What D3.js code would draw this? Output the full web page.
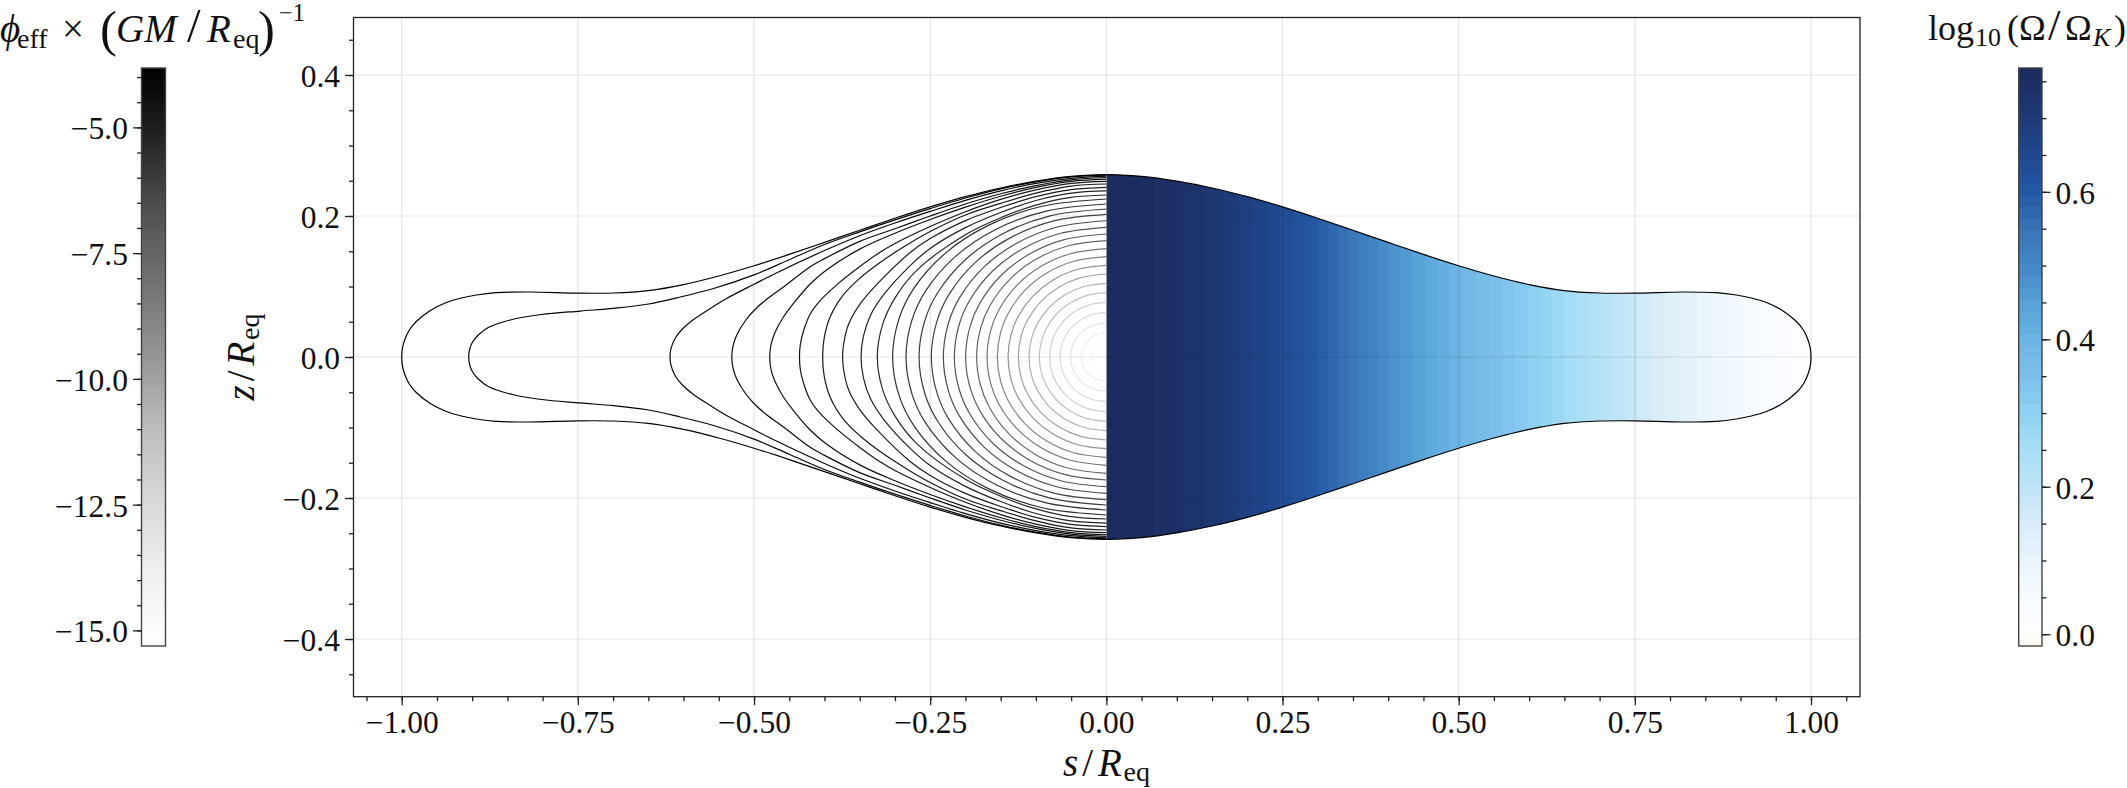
<!DOCTYPE html>
<html>
<head>
<meta charset="utf-8">
<script src="https://cdn.jsdelivr.net/npm/d3@7"></script>
<style>
  body { margin: 0; background: #fff; }
  text { font-family: "Liberation Serif", serif; fill: #111; }
</style>
</head>
<body>
<svg id="visualisation" width="2127" height="788"></svg>
<script>
// tick values
var xTicks = [-1, -0.75, -0.5, -0.25, 0, 0.25, 0.5, 0.75, 1];
var yTicks = [-0.4, -0.2, 0, 0.2, 0.4];
var phiTicks = [-15, -12.5, -10, -7.5, -5];
var omegaTicks = [0, 0.2, 0.4, 0.6];

// colourbar limits
var phiRange = [-15.31, -3.82];
var omegaRange = [-0.016, 0.768];

// rotation profile log10(Omega/Omega_K) against s/Req, read from the fill
var omegaS = [0, 0.05, 0.1, 0.15, 0.2, 0.25, 0.3, 0.35, 0.4, 0.45, 0.5, 0.55, 0.6, 0.65, 0.7, 0.75, 0.8, 0.85, 0.9, 0.95, 1];
var omegaV = [0.768, 0.76, 0.74, 0.715, 0.68, 0.64, 0.595, 0.54, 0.485, 0.44, 0.395, 0.355, 0.31, 0.265, 0.22, 0.175, 0.135, 0.1, 0.065, 0.03, 0];

// colour stops of the two colourbars
var greyStops = [0, 0.125, 0.25, 0.375, 0.5, 0.625, 0.75, 0.875, 1];
var greyColors = ["#ffffff", "#f0f0f0", "#d9d9d9", "#bdbdbd", "#969696", "#737373", "#525252", "#252525", "#000000"];
var blueStops = [-0.016, 0, 0.012, 0.05, 0.1, 0.15, 0.2, 0.25, 0.3, 0.35, 0.4, 0.45, 0.5, 0.55, 0.6, 0.65, 0.7, 0.768];
var blueColors = ["#fffaf2", "#fffcf8", "#fcfdff", "#f6fbff", "#e9f5fb", "#d8edf8", "#bde4f7", "#a8def6", "#8fd2f2", "#7dc0ea", "#6bb4e3", "#55a2d6", "#4487c5", "#3a74b6", "#2358a5", "#20488f", "#1e3a76", "#1b2a5e"];

// potential of each contour, inner to outer
var phiLevels = [-15.2, -14.5, -13.8, -13.2, -12.65, -11.95, -11.1, -10.55, -10, -9.4, -8.8, -8.25, -7.65, -7.2, -6.85, -6.5, -6.25, -6, -5.8, -5.55, -5.35, -5.15, -5, -4.8, -4.65, -4.45, -4.3, -4.15, -4, -3.82];

// upper half of each contour as [s, z], top of the axis first, inner to outer
var contourPoints = [
  [[0,.0057],[-.0029,.0049],[-.0046,.0034],[-.0054,.0018],[-.0057,0]],
  [[0,.0209],[-.0102,.0181],[-.0162,.0125],[-.0193,.0065],[-.0203,0]],
  [[0,.035],[-.0178,.0303],[-.0284,.021],[-.0337,.0109],[-.0355,0]],
  [[0,.0492],[-.0254,.0426],[-.0406,.0295],[-.0482,.0154],[-.0507,0]],
  [[0,.0634],[-.0197,.0605],[-.0361,.0529],[-.0493,.0419],[-.0591,.0276],[-.0637,.0154],[-.0657,0]],
  [[0,.0776],[-.0242,.074],[-.0443,.0648],[-.0604,.0513],[-.0725,.0338],[-.0781,.0189],[-.0805,0]],
  [[0,.0912],[-.0285,.087],[-.0523,.0762],[-.0713,.0603],[-.0856,.0398],[-.0922,.0222],[-.0951,0]],
  [[0,.1045],[-.0329,.0997],[-.0603,.0873],[-.0823,.0691],[-.0987,.0456],[-.1064,.0254],[-.1097,0]],
  [[0,.1177],[-.0375,.1123],[-.0687,.0983],[-.0937,.0778],[-.1124,.0513],[-.1212,.0286],[-.1249,0]],
  [[0,.1301],[-.0419,.1241],[-.0767,.1086],[-.1046,.086],[-.1256,.0567],[-.1353,.0316],[-.1395,0]],
  [[0,.1423],[-.0464,.1358],[-.0851,.1188],[-.116,.0941],[-.1392,.062],[-.1501,.0346],[-.1547,0]],
  [[0,.1536],[-.0508,.1465],[-.0931,.1283],[-.127,.1015],[-.1524,.067],[-.1642,.0373],[-.1693,0]],
  [[0,.165],[-.0552,.1574],[-.1013,.1378],[-.1381,.1091],[-.1657,.0719],[-.1786,.0401],[-.1841,0]],
  [[0,.1745],[-.0599,.1665],[-.1098,.1457],[-.1498,.1153],[-.1797,.0761],[-.1937,.0424],[-.1997,0]],
  [[0,.184],[-.0647,.1755],[-.1186,.1536],[-.1618,.1216],[-.1941,.0802],[-.2092,.0447],[-.2157,0]],
  [[0,.1933],[-.0694,.1844],[-.1272,.1614],[-.1735,.1278],[-.2082,.0843],[-.2244,.047],[-.2313,0]],
  [[0,.2024],[-.0745,.1931],[-.1366,.169],[-.1863,.1338],[-.2236,.0882],[-.2409,.0492],[-.2484,0]],
  [[0,.2099],[-.0797,.2002],[-.1462,.1753],[-.1994,.1387],[-.2392,.0915],[-.2578,.051],[-.2658,0]],
  [[0,.217],[-.0853,.207],[-.1564,.1812],[-.2132,.1434],[-.2559,.0946],[-.2758,.0527],[-.2843,0]],
  [[0,.2241],[-.091,.2138],[-.1668,.1871],[-.2275,.1481],[-.273,.0977],[-.2942,.0545],[-.3033,0]],
  [[0,.2298],[-.05,.2265],[-.1,.2155],[-.15,.1975],[-.2,.1735],[-.2695,.1225],[-.3007,.0825],[-.3177,.0455],[-.325,0]],
  [[0,.2355],[-.05,.2325],[-.1,.222],[-.15,.205],[-.2,.1835],[-.25,.154],[-.278,.13],[-.3163,.088],[-.3348,.059],[-.3447,.0295],[-.3481,0]],
  [[0,.2407],[-.05,.2375],[-.1,.2275],[-.15,.212],[-.2,.1935],[-.25,.168],[-.278,.1485],[-.3257,.103],[-.3489,.076],[-.366,.046],[-.373,.017],[-.3743,0]],
  [[0,.2454],[-.05,.2425],[-.1,.2325],[-.15,.218],[-.2,.2015],[-.25,.178],[-.278,.162],[-.3206,.1345],[-.3489,.1125],[-.373,.0885],[-.3919,.057],[-.4004,.027],[-.4026,0]],
  [[0,.2492],[-.05,.2463],[-.1,.237],[-.15,.2235],[-.2,.206],[-.25,.185],[-.3,.161],[-.3206,.149],[-.3489,.129],[-.383,.102],[-.4071,.079],[-.4203,.061],[-.4298,.0369],[-.4343,.0177],[-.4355,0]],
  [[0,.2522],[-.05,.249],[-.1,.2405],[-.15,.228],[-.2,.2125],[-.25,.195],[-.3,.1755],[-.35,.153],[-.3972,.1234],[-.4203,.1035],[-.444,.0759],[-.4582,.0567],[-.4699,.0355],[-.4756,.019],[-.4777,0]],
  [[0,.2546],[-.05,.2512],[-.1,.243],[-.15,.2315],[-.2,.217],[-.25,.2],[-.3,.182],[-.35,.164],[-.4,.1395],[-.4203,.1281],[-.4582,.0993],[-.4817,.0823],[-.4993,.0667],[-.5121,.0518],[-.5245,.0312],[-.5295,.017],[-.5316,0]],
  [[0,.2567],[-.05,.2535],[-.1,.2462],[-.15,.2357],[-.2,.2222],[-.25,.2065],[-.3,.19],[-.35,.172],[-.4,.151],[-.4675,.1196],[-.4993,.1035],[-.5384,.0833],[-.5621,.0688],[-.5858,.0532],[-.6023,.039],[-.6117,.027],[-.618,.0113],[-.6192,0]],
  [[0,.2579],[-.05,.2555],[-.1,.2484],[-.15,.2385],[-.2,.2255],[-.25,.2105],[-.3,.1945],[-.35,.1775],[-.4,.1595],[-.45,.138],[-.5,.1165],[-.5574,.0972],[-.6047,.0851],[-.6519,.0748],[-.6993,.0691],[-.7465,.0652],[-.8018,.0603],[-.8373,.0546],[-.8586,.0489],[-.8771,.0418],[-.8913,.0312],[-.8998,.0206],[-.9035,.0113],[-.9049,0]],
  [[0,.2587],[-.05,.2562],[-.1,.2494],[-.15,.2397],[-.2,.2274],[-.25,.2129],[-.3,.1968],[-.35,.1798],[-.4,.1625],[-.45,.1455],[-.5,.1294],[-.55,.1149],[-.6,.1027],[-.65,.0942],[-.7,.0908],[-.75,.0905],[-.8174,.0922],[-.8657,.0912],[-.8941,.0879],[-.9154,.0837],[-.9367,.0773],[-.9594,.066],[-.9793,.0504],[-.9892,.0383],[-.9953,.0255],[-.9989,.0128],[-1,0]]
];

var svg = d3.select("#visualisation");
var BOX = { left: 353.5, right: 1860, top: 17.5, bottom: 696.7 };
var LEFTBAR = { left: 141.5, right: 165.5, top: 68, bottom: 646 };
var RIGHTBAR = { left: 2018.7, right: 2042, top: 68, bottom: 646 };

var x = d3.scaleLinear().domain([-1, 1]).range([401.7, 1811]);
var y = d3.scaleLinear().domain([-0.4, 0.4]).range([639, 75]);
var phiY = d3.scaleLinear().domain(phiRange).range([LEFTBAR.bottom, LEFTBAR.top]);
var omegaY = d3.scaleLinear().domain(omegaRange).range([RIGHTBAR.bottom, RIGHTBAR.top]);

var greyScale = d3.scaleLinear()
  .domain(greyStops.map(function(t) { return phiRange[0] + t * (phiRange[1] - phiRange[0]); }))
  .range(greyColors);
var blueScale = d3.scaleLinear().domain(blueStops).range(blueColors);

var minus = function(f) {
  return function(d) { return f(d).replace("-", "\u2212\u2009"); };
};

// a run of math text; each part is [string, style]
function mathText(parent, px, py, anchor, size, parts, rotate) {
  var t = parent.append("text")
    .attr("text-anchor", anchor)
    .attr("font-size", size);
  if (rotate) t.attr("transform", "translate(" + px + "," + py + ") rotate(-90)");
  else t.attr("x", px).attr("y", py);
  var base = 0;
  parts.forEach(function(p) {
    var o = p[1] || {};
    var shift = o.shift || 0;
    var s = t.append("tspan")
      .attr("dy", base - shift)
      .attr("font-size", size * (o.scale || 1))
      .attr("font-style", o.italic ? "italic" : "normal")
      .text(p[0]);
    if (o.gap) s.attr("dx", o.gap);
    if (o.at !== undefined) s.attr("x", o.at);
    base = shift;
  });
  return t;
}

function styleAxis(g, labelSize) {
  g.select(".domain").remove();
  g.selectAll(".tick line").attr("stroke", "#222").attr("stroke-width", 1.3);
  g.selectAll(".tick text").attr("font-size", labelSize).attr("font-family", "Liberation Serif").attr("fill", "#111");
}

function drawBody() {
  var outer = contourPoints[contourPoints.length - 1];
  var line = d3.line()
    .x(function(d) { return x(d[0]); })
    .y(function(d) { return y(d[1]); })
    .curve(d3.curveCatmullRom.alpha(0.5));

  function leftHalf(pts) {
    var lower = pts.slice(0, -1).reverse().map(function(d) { return [d[0], -d[1]]; });
    return pts.concat(lower);
  }
  var rightPts = leftHalf(outer).map(function(d) { return [-d[0], d[1]]; });

  svg.append("clipPath").attr("id", "fillClip").append("path").attr("d", line(rightPts) + "Z");

  // rotation fill, one strip per colour level
  var nBands = 50;
  var step = (omegaRange[1] - omegaRange[0]) / nBands;
  var bands = d3.range(nBands).map(function(i) { return omegaRange[0] + i * step; });
  var sOfOmega = d3.scaleLinear().domain(omegaV).range(omegaS);
  svg.append("g").attr("clip-path", "url(#fillClip)")
    .selectAll("rect").data(bands).enter().append("rect")
    .attr("x", function(d) { return x(sOfOmega(Math.min(d + step, omegaV[0]))); })
    .attr("width", function(d) {
      var lo = Math.max(d, 0);
      var right = d < 0 ? 1 : sOfOmega(lo);
      return Math.max(0, x(right) - x(sOfOmega(Math.min(d + step, omegaV[0])))) + 0.6;
    })
    .attr("y", y(0.3))
    .attr("height", y(-0.3) - y(0.3))
    .attr("fill", function(d) { return blueScale(d + step / 2); });

  // potential contours, left half only
  svg.append("g").selectAll("path").data(contourPoints).enter().append("path")
    .attr("d", function(d) { return line(leftHalf(d)); })
    .attr("fill", "none")
    .attr("stroke", function(d, i) { return greyScale(phiLevels[i]); })
    .attr("stroke-width", 1.2);

  svg.append("path").attr("d", line(rightPts))
    .attr("fill", "none").attr("stroke", "#000").attr("stroke-width", 1.2);
}

function drawGridAndAxes() {
  var grid = svg.append("g").attr("stroke", "#000").attr("stroke-opacity", 0.1).attr("stroke-width", 1.2);
  grid.selectAll(".gx").data(xTicks).enter().append("line").attr("class", "gx")
    .attr("x1", x).attr("x2", x).attr("y1", BOX.top).attr("y2", BOX.bottom);
  grid.selectAll(".gy").data(yTicks).enter().append("line").attr("class", "gy")
    .attr("y1", y).attr("y2", y).attr("x1", BOX.left).attr("x2", BOX.right);

  svg.append("rect")
    .attr("x", BOX.left).attr("y", BOX.top)
    .attr("width", BOX.right - BOX.left).attr("height", BOX.bottom - BOX.top)
    .attr("fill", "none").attr("stroke", "#222").attr("stroke-width", 1.3);

  var xMinor = d3.range(-1.05, 1.0501, 0.05);
  var gxm = svg.append("g").attr("transform", "translate(0," + BOX.bottom + ")")
    .call(d3.axisBottom(x).tickValues(xMinor).tickSize(4.5).tickFormat(""));
  styleAxis(gxm, 0);
  var gx = svg.append("g").attr("transform", "translate(0," + BOX.bottom + ")")
    .call(d3.axisBottom(x).tickValues(xTicks).tickSize(8.5).tickPadding(5).tickFormat(minus(d3.format(".2f"))));
  styleAxis(gx, 31.5);
  gx.selectAll(".tick text").attr("dy", 0).attr("y", 36);

  var yMinor = d3.range(-0.45, 0.4501, 0.05);
  var gym = svg.append("g").attr("transform", "translate(" + BOX.left + ",0)")
    .call(d3.axisLeft(y).tickValues(yMinor).tickSize(4.5).tickFormat(""));
  styleAxis(gym, 0);
  var gy = svg.append("g").attr("transform", "translate(" + BOX.left + ",0)")
    .call(d3.axisLeft(y).tickValues(yTicks).tickSize(8.5).tickPadding(5).tickFormat(minus(d3.format(".1f"))));
  styleAxis(gy, 31.5);
  gy.selectAll(".tick text").attr("dy", 0).attr("y", 11);

  mathText(svg, 1106.5, 776, "middle", 39, [
    ["s", { italic: true }], ["/", { gap: 4 }], ["R", { italic: true, gap: 5 }], ["eq", { scale: 0.72, shift: -5, gap: 1.5 }]
  ]);
  mathText(svg, 254, 357, "middle", 39, [
    ["z", { italic: true }], ["/", { gap: 4 }], ["R", { italic: true, gap: 5 }], ["eq", { scale: 0.72, shift: -5, gap: 1.5 }]
  ], true);
}

function drawColorbar(box, scale, colorOf, n, major, minor, side, fmt) {
  var dom = scale.domain();
  var step = (dom[1] - dom[0]) / n;
  var cells = d3.range(n).map(function(i) { return dom[0] + i * step; });
  svg.append("g").attr("shape-rendering", "crispEdges").selectAll("rect").data(cells).enter().append("rect")
    .attr("x", box.left).attr("width", box.right - box.left)
    .attr("y", function(d) { return scale(d + step); })
    .attr("height", function(d) { return scale(d) - scale(d + step) + 0.5; })
    .attr("fill", function(d) { return colorOf(d + step / 2); });
  svg.append("rect")
    .attr("x", box.left).attr("y", box.top)
    .attr("width", box.right - box.left).attr("height", box.bottom - box.top)
    .attr("fill", "none").attr("stroke", "#444").attr("stroke-width", 1.4);

  var pos = side === "left" ? box.left : box.right;
  var make = side === "left" ? d3.axisLeft : d3.axisRight;
  var gm = svg.append("g").attr("transform", "translate(" + pos + ",0)")
    .call(make(scale).tickValues(minor).tickSize(4.5).tickFormat(""));
  styleAxis(gm, 0);
  var g = svg.append("g").attr("transform", "translate(" + pos + ",0)")
    .call(make(scale).tickValues(major).tickSize(8.5).tickPadding(5).tickFormat(minus(fmt)));
  styleAxis(g, 31.5);
  g.selectAll(".tick text").attr("dy", 0).attr("y", 11.5);
}

drawBody();
drawGridAndAxes();

drawColorbar(LEFTBAR, phiY, greyScale, 200, phiTicks, d3.range(-15, -3.9, 0.5), "left", d3.format(".1f"));
drawColorbar(RIGHTBAR, omegaY, blueScale, 50, omegaTicks, d3.range(0, 0.76, 0.05), "right", d3.format(".1f"));

mathText(svg, 0, 42, "start", 39, [
  ["\u03D5", { italic: true, at: 0 }],
  ["eff", { scale: 0.72, shift: -6, at: 17 }],
  ["\u00D7", { at: 62 }],
  ["(", { scale: 1.3, shift: -4, at: 100 }],
  ["GM", { italic: true, at: 116 }],
  ["/", { scale: 1.25, at: 187 }],
  ["R", { italic: true, at: 207 }],
  ["eq", { scale: 0.72, shift: -6, at: 233 }],
  [")", { scale: 1.3, shift: -4, at: 258 }],
  ["\u22121", { scale: 0.62, shift: 21, at: 279 }]
]);
mathText(svg, 1928, 40, "start", 36, [
  ["log", { at: 1928 }],
  ["10", { scale: 0.72, shift: -6, at: 1975 }],
  ["(", { at: 2007 }],
  ["\u03A9", { at: 2019 }],
  ["/", { scale: 1.25, at: 2048 }],
  ["\u03A9", { at: 2065 }],
  ["K", { italic: true, scale: 0.72, shift: -6, at: 2093 }],
  [")", { at: 2114 }]
]);
</script>
</body>
</html>
